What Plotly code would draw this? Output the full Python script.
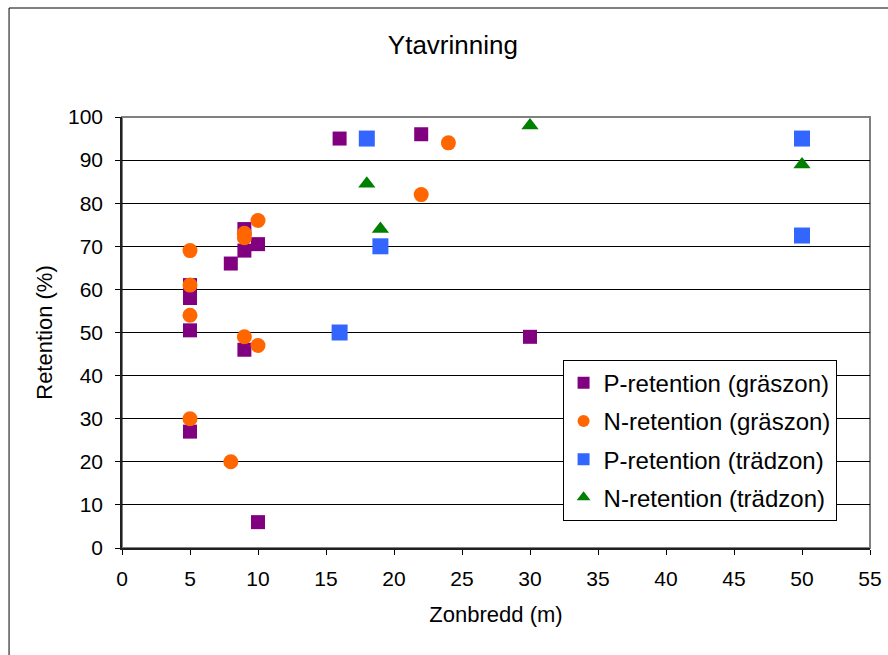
import plotly.graph_objects as go

# Data
p_gras_x = [5, 5, 5, 5, 8, 9, 9, 9, 10, 10, 16, 22, 30]
p_gras_y = [61, 58, 50.5, 27, 66, 74, 69, 46, 70.5, 6, 95, 96, 49]

n_gras_x = [5, 5, 5, 5, 8, 9, 9, 9, 10, 10, 22, 24]
n_gras_y = [69, 61, 54, 30, 20, 73, 72, 49, 76, 47, 82, 94]

p_trad_x = [16, 18, 19, 50, 50]
p_trad_y = [50, 95, 70, 95, 72.5]

n_trad_x = [18, 19, 30, 50]
n_trad_y = [84.5, 74, 98, 89]

font = "Liberation Sans, Arial, sans-serif"

fig = go.Figure()
fig.add_trace(go.Scatter(x=p_gras_x, y=p_gras_y, mode="markers", name="P-retention (gräszon)",
                         legendgroup="a",
                         marker=dict(symbol="square", size=14, color="#800080")))
fig.add_trace(go.Scatter(x=n_gras_x, y=n_gras_y, mode="markers", name="N-retention (gräszon)",
                         legendgroup="b",
                         marker=dict(symbol="circle", size=15, color="#FF6600")))
fig.add_trace(go.Scatter(x=p_trad_x, y=p_trad_y, mode="markers", name="P-retention (trädzon)",
                         legendgroup="c",
                         marker=dict(symbol="square", size=16, color="#3366FF")))
fig.add_trace(go.Scatter(x=n_trad_x, y=n_trad_y, mode="markers", name="N-retention (trädzon)",
                         legendgroup="d",
                         marker=dict(symbol="triangle-up", size=15, color="#008000")))

fig.update_layout(
    width=888, height=655, autosize=False,
    margin=dict(l=122, r=18, t=117, b=107, autoexpand=False),
    paper_bgcolor="white", plot_bgcolor="white",
    font=dict(family=font, size=21, color="black"),
    title=dict(text="Ytavrinning", x=0.51, xanchor="center", y=0.931, yanchor="middle",
               font=dict(family=font, size=26, color="black")),
    xaxis=dict(range=[0, 55], tick0=0, dtick=5, showgrid=False, zeroline=False,
               showline=True, linecolor="#202020", linewidth=1.5, automargin=False,
               ticks="outside", ticklen=5, tickcolor="black",
               tickfont=dict(family=font, size=21), ticklabelstandoff=6,
               title=dict(text="Zonbredd (m)", font=dict(family=font, size=22), standoff=18)),
    yaxis=dict(range=[0, 100], tick0=0, dtick=10, showgrid=True, gridcolor="black", gridwidth=1,
               zeroline=False, showline=True, linecolor="#202020", linewidth=1.5, automargin=False,
               ticks="outside", ticklen=5, tickcolor="black",
               tickfont=dict(family=font, size=21), ticklabelstandoff=8,
               title=dict(text="Retention (%)", font=dict(family=font, size=22), standoff=9)),
    legend=dict(x=0.589, y=0.437, xanchor="left", yanchor="top",
                bgcolor="white", bordercolor="black", borderwidth=1,
                font=dict(family=font, size=24), itemsizing="constant",
                traceorder="grouped", tracegroupgap=4),
    shapes=[
        dict(type="rect", xref="paper", yref="paper", x0=-0.151, x1=1.2, y0=-0.4, y1=1.2529,
             line=dict(color="black", width=1), layer="below"),
        dict(type="rect", xref="paper", yref="paper", x0=0, x1=1, y0=0, y1=1,
             line=dict(color="#808080", width=2), layer="below"),
    ],
)

fig.write_html("out.html", config={"displayModeBar": False},
               post_script="document.body.style.margin='0px';document.body.style.overflow='hidden';")
